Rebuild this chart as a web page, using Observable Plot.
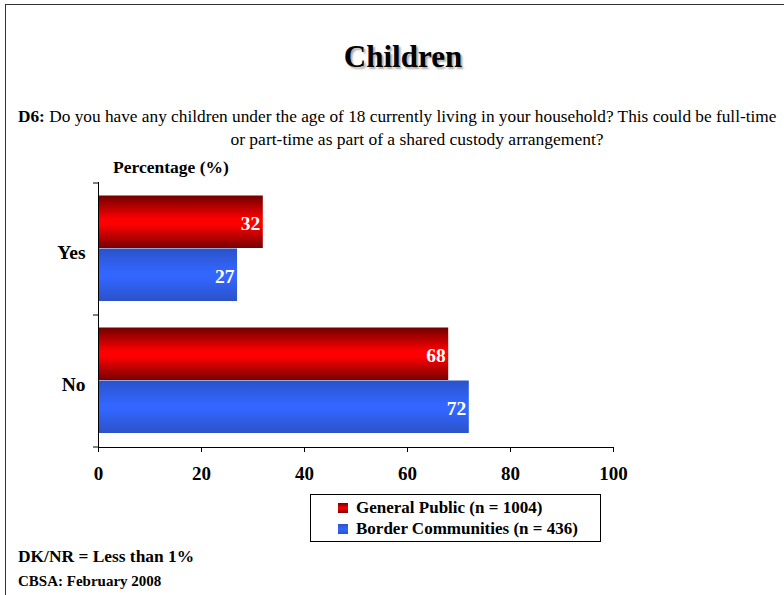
<!DOCTYPE html>
<html>
<head>
<meta charset="utf-8">
<script src="https://cdn.jsdelivr.net/npm/d3@7"></script>
<script src="https://cdn.jsdelivr.net/npm/@observablehq/plot@0.6"></script>
<style>
  html, body { margin:0; padding:0; background:#fff; }
  body { width:784px; height:595px; overflow:hidden; position:relative; font-family:"Liberation Serif", "Times New Roman", serif; color:#000; }
  .frame { position:absolute; left:5px; top:4px; width:820px; height:640px; border:1.5px solid #333; box-sizing:border-box; }
  .title { position:absolute; left:0; width:806px; top:39px; text-align:center; font-size:31px; font-weight:bold; text-shadow:2px 2px 2px #aaa; }
  .sub1 { position:absolute; left:18px; top:106px; font-size:17.3px; line-height:22px; white-space:nowrap; }
  .sub2 { position:absolute; left:18px; width:798px; top:128px; text-align:center; font-size:17.5px; line-height:22px; white-space:nowrap; }
  .xlabel { position:absolute; left:113px; top:157px; font-size:17.5px; font-weight:bold; }
  #chart { position:absolute; left:0; top:170px; }
  .legend { position:absolute; left:310px; top:494px; width:291px; height:48px; border:1px solid #000; box-sizing:border-box; font-size:17px; font-weight:bold; }
  .legend .item { position:absolute; left:27px; height:20px; line-height:20px; white-space:nowrap; }
  .legend .sw { display:inline-block; width:10px; height:10px; margin-right:8px; vertical-align:0px; }
  .note1 { position:absolute; left:18px; top:546px; font-size:17.4px; font-weight:bold; }
  .note2 { position:absolute; left:18px; top:573px; font-size:15px; font-weight:bold; }
</style>
</head>
<body>
<svg width="0" height="0" style="position:absolute">
  <defs>
    <linearGradient id="gradRed" x1="0" y1="0" x2="0" y2="1">
      <stop offset="0" stop-color="#700000"/>
      <stop offset="0.45" stop-color="#ff0000"/>
      <stop offset="0.55" stop-color="#ff0000"/>
      <stop offset="1" stop-color="#780000"/>
    </linearGradient>
    <linearGradient id="gradBlue" x1="0" y1="0" x2="0" y2="1">
      <stop offset="0" stop-color="#2b52c8"/>
      <stop offset="0.45" stop-color="#3366ff"/>
      <stop offset="0.55" stop-color="#3366ff"/>
      <stop offset="1" stop-color="#2b52c8"/>
    </linearGradient>
  </defs>
</svg>
<div class="frame"></div>
<div class="title">Children</div>
<div class="sub1"><b>D6:</b> Do you have any children under the age of 18 currently living in your household? This could be full-time</div>
<div class="sub2">or part-time as part of a shared custody arrangement?</div>
<div class="xlabel">Percentage (%)</div>
<div id="chart"></div>
<div class="legend" id="legend"></div>
<div class="note1">DK/NR = Less than 1%</div>
<div class="note2">CBSA: February 2008</div>
<script>
const categories = ["Yes", "No"];
const seriesNames = ["General Public (n = 1004)", "Border Communities (n = 436)"];
const generalPublic = [32, 68];
const borderCommunities = [27, 72];
const xTicks = [0, 20, 40, 60, 80, 100];
const seriesFills = ["url(#gradRed)", "url(#gradBlue)"];

const gp = categories.map((c, i) => ({category: c, value: generalPublic[i]}));
const bc = categories.map((c, i) => ({category: c, value: borderCommunities[i]}));

const plot = Plot.plot({
  width: 784,
  height: 320,
  marginLeft: 98,
  marginRight: 171,
  marginTop: 12,
  marginBottom: 43,
  x: {domain: [0, 100]},
  y: {domain: categories, padding: 0},
  style: {fontFamily: "Liberation Serif, Times New Roman, serif", fontSize: "19px", fontWeight: "bold", color: "#000", background: "transparent", overflow: "visible"},
  marks: [
    Plot.barX(gp, {x: "value", y: "category", fill: seriesFills[0], insetTop: 12.5, insetBottom: 67}),
    Plot.barX(bc, {x: "value", y: "category", fill: seriesFills[1], insetTop: 65.5, insetBottom: 14}),
    Plot.text(gp, {x: "value", y: "category", text: d => String(d.value), textAnchor: "end", dx: -3, dy: -25.5, fill: "white", fontSize: 19.5, fontWeight: "bold"}),
    Plot.text(bc, {x: "value", y: "category", text: d => String(d.value), textAnchor: "end", dx: -3, dy: 27, fill: "white", fontSize: 19.5, fontWeight: "bold"}),
    Plot.frame({anchor: "left", stroke: "#000"}),
    Plot.frame({anchor: "bottom", stroke: "#000"}),
    Plot.axisX({ticks: xTicks, tickSize: 5, tickPadding: 14, label: null, fontSize: 19, fontWeight: "bold"}),
    Plot.axisY({tickSize: 0, tickPadding: 13, label: null, fontSize: 19.5, fontWeight: "bold", dy: 3})
  ]
});
document.getElementById("chart").appendChild(plot);

// category boundary ticks on the y axis, positioned by the plot's own y scale
const ys = plot.scale("y");
const x0 = plot.scale("x").apply(0);
const bounds = categories.map(c => ys.apply(c)).concat([ys.apply(categories[categories.length - 1]) + ys.bandwidth]);
d3.select(plot).append("g").attr("stroke", "#000")
  .selectAll("line").data(bounds).join("line")
  .attr("x1", x0 - 5).attr("x2", x0)
  .attr("y1", d => d).attr("y2", d => d);

// legend
const legend = d3.select("#legend");
seriesNames.forEach((name, i) => {
  const item = legend.append("div").attr("class", "item").style("top", (i === 0 ? 3 : 24) + "px");
  item.append("span").attr("class", "sw").style("background", i === 0 ? "linear-gradient(#700000, #ff0000 50%, #780000)" : "linear-gradient(#2b52c8, #3366ff 50%, #2b52c8)");
  item.append("span").text(name);
});
</script>
</body>
</html>
